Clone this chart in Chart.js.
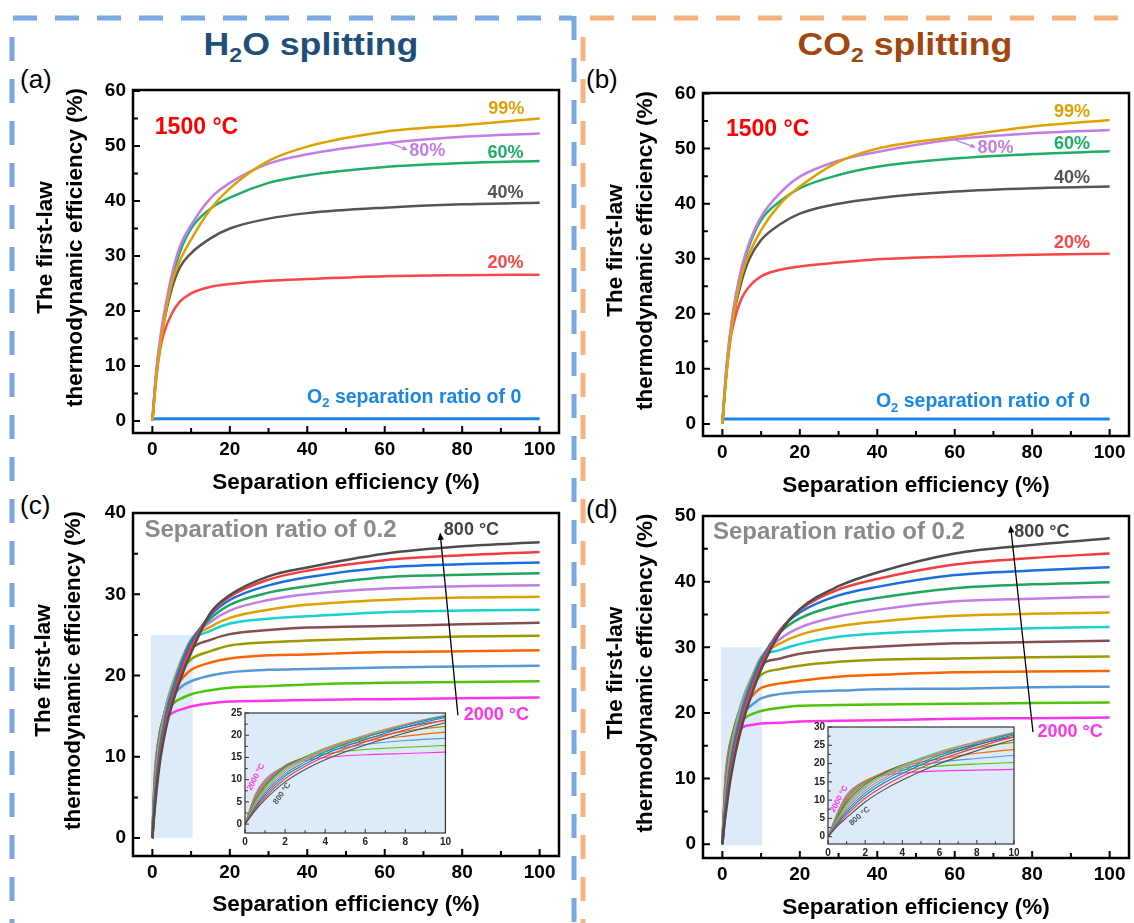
<!DOCTYPE html>
<html lang="en">
<head>
<meta charset="UTF-8">
<title>First-law thermodynamic efficiency vs separation efficiency</title>
<script src="https://cdn.jsdelivr.net/npm/chart.js"></script>
<style>
  body { margin: 0; background: #fff; }
  #page { position: relative; width: 1134px; height: 923px; overflow: hidden; font-family: "Liberation Sans", Arial, sans-serif; }
  canvas { position: absolute; }
  .head { position: absolute; top: 29px; font-size: 31px; line-height: 31px; font-weight: bold; white-space: nowrap; transform: translateX(-50%) scaleX(1.15); }
  .head sub { font-size: 20px; vertical-align: -7px; line-height: 0; }
  .tag { position: absolute; font-size: 26px; line-height: 26px; }
</style>
</head>
<body>
<div id="page">
  <svg width="1134" height="923" style="position:absolute;left:0;top:0">
    <g fill="none" stroke-width="5" stroke-dasharray="24 18">
      <line x1="13" y1="18" x2="572" y2="18" stroke="#7ba7e2"/>
      <line x1="12" y1="37" x2="12" y2="923" stroke="#7ba7e2"/>
      <line x1="574" y1="16" x2="574" y2="923" stroke="#7ba7e2"/>
      <line x1="590" y1="18" x2="1134" y2="18" stroke="#f9b182"/>
      <line x1="583" y1="37" x2="583" y2="923" stroke="#f9b182"/>
    </g>
  </svg>
  <div class="head" style="left:311px;color:#1f4e79">H<sub>2</sub>O splitting</div>
  <div class="head" style="left:905px;color:#a0460f">CO<sub>2</sub> splitting</div>
  <div class="tag" style="left:20px;top:66px">(a)</div>
  <div class="tag" style="left:586px;top:66px">(b)</div>
  <div class="tag" style="left:20px;top:492px">(c)</div>
  <div class="tag" style="left:586px;top:496px">(d)</div>

  <canvas id="chartA" width="575" height="440" style="left:0;top:60px"></canvas>
  <canvas id="chartB" width="559" height="440" style="left:575px;top:60px"></canvas>
  <canvas id="chartC" width="575" height="433" style="left:0;top:490px"></canvas>
  <canvas id="chartD" width="559" height="433" style="left:575px;top:490px"></canvas>
  <canvas id="insetC" width="232" height="148" style="left:222px;top:703px"></canvas>
  <canvas id="insetD" width="218" height="146" style="left:805px;top:717px"></canvas>
</div>

<script>
  // ---------- data ----------
  // (a), (b): 1500 °C, curves for several O2 separation ratios
  const sepTop = [0, 1, 2, 3, 5, 7, 10, 15, 20, 30, 40, 60, 80, 100];

  const h2o99 = [0, 7.5, 13.5, 18, 25, 29, 33.0, 38.5, 42.3, 47.3, 49.9, 52.6, 53.8, 55.0];
  const h2o80 = [0, 9, 15, 19.5, 26.5, 31.5, 35.6, 40.5, 43.3, 46.8, 48.5, 50.5, 51.7, 52.3];
  const h2o60 = [0, 8.5, 14.2, 18.5, 25.5, 30.5, 35.0, 38.6, 40.6, 43.3, 44.7, 46.2, 46.9, 47.3];
  const h2o40 = [0, 8.5, 14, 18, 24, 27.8, 30.5, 33.2, 35, 36.8, 37.8, 38.8, 39.4, 39.7];
  const h2o20 = [0, 8, 13, 16, 19.5, 21.6, 23.2, 24.4, 24.9, 25.5, 25.8, 26.3, 26.5, 26.6];
  const h2o0  = [0.4, 0.4, 0.4, 0.4, 0.4, 0.4, 0.4, 0.4, 0.4, 0.4, 0.4, 0.4, 0.4, 0.4];

  const co299 = [0, 8.5, 15, 20, 27, 31, 35.2, 40, 43.1, 47.6, 50, 52.1, 54, 55.2];
  const co280 = [0, 10, 16.5, 21.5, 28.5, 33, 37.6, 42, 44.9, 47.8, 49.4, 51.7, 52.8, 53.4];
  const co260 = [0, 9.5, 16, 21, 28, 32.5, 37, 40.5, 42.8, 45.2, 46.7, 48.2, 49, 49.5];
  const co240 = [0, 9, 15.5, 20, 26, 30, 33.4, 36.3, 38.2, 40, 41, 42.2, 42.8, 43.1];
  const co220 = [0, 9, 15, 18.5, 22.8, 25, 26.8, 28, 28.6, 29.3, 29.9, 30.4, 30.7, 30.9];
  const co20  = [0.9, 0.9, 0.9, 0.9, 0.9, 0.9, 0.9, 0.9, 0.9, 0.9, 0.9, 0.9, 0.9, 0.9];

  // (c), (d): separation ratio 0.2, temperatures 800 ... 2000 °C (one row per temperature)
  const sepLow = [0, 0.5, 1, 2, 3, 4, 6, 8, 10, 15, 20, 30, 40, 60, 80, 100];
  const temps = [800, 900, 1000, 1100, 1200, 1300, 1400, 1500, 1600, 1700, 1800, 1900, 2000];

  const h2oByTemp = [
    [0, 3.0, 5.5, 9.5, 12.3, 14.5, 17.8, 20.5, 22.8, 27.7, 29.9, 32.2, 33.3, 35.0, 35.9, 36.4],
    [0, 3.3, 6.0, 10.2, 13.0, 15.2, 18.5, 21.2, 23.5, 27.6, 29.7, 31.8, 32.9, 34.2, 34.8, 35.2],
    [0, 3.6, 6.5, 10.8, 13.5, 15.8, 19.0, 21.8, 24.0, 27.4, 29.3, 31.1, 32.1, 33.3, 33.7, 33.9],
    [0, 3.9, 7.0, 11.3, 14.0, 16.3, 19.5, 22.2, 24.3, 27.0, 28.7, 30.2, 31.0, 32.1, 32.4, 32.6],
    [0, 4.2, 7.4, 11.8, 14.5, 16.7, 19.8, 22.4, 24.4, 26.6, 28.0, 29.3, 30.0, 30.7, 31.0, 31.1],
    [0, 4.5, 7.8, 12.2, 14.8, 17.0, 20.0, 22.5, 24.4, 26.0, 27.1, 28.1, 28.7, 29.3, 29.6, 29.7],
    [0, 4.8, 8.2, 12.5, 15.0, 17.1, 20.0, 22.4, 24.2, 25.5, 26.4, 27.0, 27.3, 27.8, 28.0, 28.1],
    [0, 5.1, 8.5, 12.8, 15.1, 17.0, 19.7, 21.8, 23.3, 24.4, 25.1, 25.6, 25.9, 26.1, 26.3, 26.5],
    [0, 5.4, 8.8, 13.0, 15.1, 16.9, 19.2, 20.9, 22.0, 23.0, 23.7, 24.1, 24.3, 24.6, 24.8, 24.9],
    [0, 5.7, 9.0, 13.1, 15.0, 16.7, 18.6, 19.8, 20.7, 21.6, 22.1, 22.5, 22.6, 22.9, 23.0, 23.1],
    [0, 6.0, 9.3, 13.2, 14.9, 16.3, 17.9, 18.8, 19.3, 20.0, 20.4, 20.7, 20.8, 21.0, 21.1, 21.2],
    [0, 6.2, 9.6, 13.1, 14.6, 15.8, 16.8, 17.3, 17.7, 18.2, 18.5, 18.7, 18.9, 19.1, 19.2, 19.3],
    [0, 6.5, 10.0, 13.0, 14.3, 15.0, 15.6, 15.9, 16.2, 16.6, 16.8, 16.9, 17.0, 17.1, 17.2, 17.3]
  ];

  const co2ByTemp = [
    [0, 2.9, 5.2, 9.5, 12.8, 15.5, 20.0, 23.5, 26.6, 32.3, 35.8, 39.3, 41.4, 44.3, 45.6, 46.6],
    [0, 3.2, 5.9, 10.5, 13.8, 16.5, 21.0, 24.4, 27.3, 32.6, 35.7, 38.8, 40.4, 42.6, 43.6, 44.3],
    [0, 3.5, 6.5, 11.3, 14.7, 17.3, 21.7, 25.0, 27.8, 32.7, 35.3, 37.9, 39.2, 41.0, 41.7, 42.2],
    [0, 3.8, 7.1, 12.0, 15.4, 18.0, 22.3, 25.5, 28.2, 32.3, 34.4, 36.4, 37.5, 39.0, 39.6, 39.9],
    [0, 4.1, 7.7, 12.7, 16.0, 18.6, 22.8, 25.8, 28.4, 31.3, 33.0, 34.7, 35.7, 37.0, 37.4, 37.7],
    [0, 4.4, 8.3, 13.3, 16.6, 19.1, 23.1, 26.0, 28.5, 30.6, 31.9, 33.2, 33.9, 34.8, 35.1, 35.3],
    [0, 4.7, 8.8, 13.8, 17.0, 19.5, 23.3, 25.9, 28.3, 29.6, 30.5, 31.6, 32.1, 32.6, 32.9, 33.1],
    [0, 5.0, 9.3, 14.3, 17.4, 19.6, 22.8, 25.2, 27.3, 28.3, 29.0, 29.7, 30.1, 30.6, 30.8, 31.0],
    [0, 5.3, 9.8, 14.7, 17.6, 19.6, 22.4, 24.3, 25.8, 26.7, 27.2, 27.8, 28.1, 28.3, 28.5, 28.6],
    [0, 5.6, 10.2, 15.0, 17.5, 19.2, 21.3, 22.8, 23.8, 24.5, 24.9, 25.5, 25.8, 26.2, 26.3, 26.4],
    [0, 5.9, 10.6, 15.1, 17.4, 18.7, 20.4, 21.4, 22.2, 22.9, 23.2, 23.4, 23.6, 23.7, 23.9, 24.0],
    [0, 6.2, 11.0, 15.2, 17.1, 18.2, 19.3, 19.9, 20.3, 20.8, 21.1, 21.2, 21.3, 21.4, 21.5, 21.6],
    [0, 6.5, 11.4, 15.3, 16.8, 17.4, 18.0, 18.2, 18.4, 18.5, 18.7, 18.8, 18.9, 19.1, 19.2, 19.3]
  ];

  const xTicks = [0, 20, 40, 60, 80, 100];
  const insetTicks = [0, 2, 4, 6, 8, 10];

  // ---------- styling ----------
  const FONT = '"Liberation Sans", Arial, sans-serif';
  Chart.defaults.font.family = FONT;
  Chart.defaults.color = '#000';

  // 99%, 80%, 60%, 40%, 20%, 0
  const ratioColors = ['#e0a000', '#c07ee6', '#1fae68', '#555555', '#ff4545', '#1a86e6'];
  const tempColors = ['#4d4d4d', '#f53c3c', '#1a6fdf', '#1fa560', '#c07ee6', '#dca000', '#1ccfd0',
                      '#84504f', '#9a9a00', '#fb6501', '#5599d6', '#4fc20a', '#ff33ee'];

  function pts(xs, ys) { return xs.map((x, i) => ({ x: x, y: ys[i] })); }

  function curve(xs, ys, color, w) {
    return { data: pts(xs, ys), borderColor: color, borderWidth: w, pointRadius: 0,
             cubicInterpolationMode: 'monotone', fill: false };
  }

  // extra drawing per chart: frame, inward ticks, shaded box, y title, notes, arrows
  const decorById = {};
  const yTitleLines = ['The first-law', 'thermodynamic efficiency (%)'];

  function drawNote(ctx, px, py, n) {
    ctx.save();
    ctx.translate(px, py);
    if (n.rot) ctx.rotate(n.rot * Math.PI / 180);
    ctx.fillStyle = n.color;
    ctx.textBaseline = 'middle';
    ctx.textAlign = 'left';
    const big = 'bold ' + n.size + 'px ' + FONT;
    const small = 'bold ' + Math.round(n.size * 0.65) + 'px ' + FONT;
    const parts = n.parts || [[n.text, false]];
    let w = 0;
    parts.forEach(p => { ctx.font = p[1] ? small : big; w += ctx.measureText(p[0]).width; });
    let cx = -w / 2;
    parts.forEach(p => {
      ctx.font = p[1] ? small : big;
      ctx.fillText(p[0], cx, p[1] ? n.size * 0.32 : 0);
      cx += ctx.measureText(p[0]).width;
    });
    ctx.restore();
  }

  function drawArrow(ctx, x0, y0, x1, y1, color, w, head) {
    const ang = Math.atan2(y1 - y0, x1 - x0);
    ctx.save();
    ctx.strokeStyle = color;
    ctx.fillStyle = color;
    ctx.lineWidth = w;
    ctx.beginPath();
    ctx.moveTo(x0, y0);
    ctx.lineTo(x1 - Math.cos(ang) * head * 0.8, y1 - Math.sin(ang) * head * 0.8);
    ctx.stroke();
    ctx.beginPath();
    ctx.moveTo(x1, y1);
    ctx.lineTo(x1 - head * Math.cos(ang - 0.4), y1 - head * Math.sin(ang - 0.4));
    ctx.lineTo(x1 - head * Math.cos(ang + 0.4), y1 - head * Math.sin(ang + 0.4));
    ctx.closePath();
    ctx.fill();
    ctx.restore();
  }

  const decor = {
    id: 'decor',
    beforeDatasetsDraw(chart) {
      const d = decorById[chart.canvas.id];
      const { ctx, chartArea: a } = chart;
      const sx = chart.scales.x, sy = chart.scales.y;
      ctx.save();
      if (d.bg) {
        ctx.fillStyle = d.bg;
        ctx.fillRect(a.left, a.top, a.width, a.height);
      }
      if (d.shade) {
        const l = sx.getPixelForValue(d.shade.x[0]), r = sx.getPixelForValue(d.shade.x[1]);
        const t = sy.getPixelForValue(d.shade.y[1]), b = sy.getPixelForValue(d.shade.y[0]);
        ctx.fillStyle = '#ddeaf8';
        ctx.fillRect(l, t, r - l, b - t);
      }
      ctx.restore();
    },
    afterDatasetsDraw(chart) {
      const d = decorById[chart.canvas.id];
      const { ctx, chartArea: a } = chart;
      const sx = chart.scales.x, sy = chart.scales.y;
      ctx.save();
      ctx.strokeStyle = d.frameColor;
      ctx.lineWidth = d.frameW;
      ctx.strokeRect(a.left, a.top, a.width, a.height);
      ctx.lineWidth = d.tickW;
      ctx.beginPath();
      for (let v = Math.ceil(sx.min / d.minorX) * d.minorX; v <= sx.max + 1e-9; v += d.minorX) {
        const major = sx.ticks.some(t => Math.abs(t.value - v) < 1e-6);
        const p = sx.getPixelForValue(v);
        ctx.moveTo(p, a.bottom);
        ctx.lineTo(p, a.bottom - (major ? d.tickLen : d.tickLen * 0.7));
      }
      for (let v = Math.ceil(sy.min / d.minorY) * d.minorY; v <= sy.max + 1e-9; v += d.minorY) {
        const major = sy.ticks.some(t => Math.abs(t.value - v) < 1e-6);
        const p = sy.getPixelForValue(v);
        ctx.moveTo(a.left, p);
        ctx.lineTo(a.left + (major ? d.tickLen : d.tickLen * 0.7), p);
      }
      ctx.stroke();
      if (d.yTitle) {
        // two-line rotated axis title, centred a little above the plot centre as in the figure
        const cy = (a.top + a.bottom) / 2 - 14;
        ctx.fillStyle = '#000';
        ctx.font = 'bold 22.5px ' + FONT;
        ctx.textAlign = 'center';
        ctx.textBaseline = 'middle';
        yTitleLines.forEach((t, i) => {
          ctx.save();
          ctx.translate(d.yTitle[i], cy);
          ctx.rotate(-Math.PI / 2);
          ctx.fillText(t, 0, 0);
          ctx.restore();
        });
      }
      (d.arrows || []).forEach(r => {
        drawArrow(ctx, sx.getPixelForValue(r.from[0]), sy.getPixelForValue(r.from[1]),
                  sx.getPixelForValue(r.to[0]), sy.getPixelForValue(r.to[1]), r.color, r.w, r.head);
      });
      (d.notes || []).forEach(n => drawNote(ctx, sx.getPixelForValue(n.x), sy.getPixelForValue(n.y), n));
      ctx.restore();
    }
  };

  function mainScales(o) {
    return {
      x: {
        type: 'linear', min: -5, max: 105,
        afterBuildTicks: s => { s.ticks = xTicks.map(v => ({ value: v })); },
        afterFit: s => { s.height = o.xH; },
        grid: { display: false, drawTicks: false }, border: { display: false },
        ticks: { font: { size: 19, weight: 'bold' }, padding: 5, maxRotation: 0, autoSkip: false },
        title: { display: true, text: 'Separation efficiency (%)', font: { size: 22.5, weight: 'bold' },
                 padding: { top: 0, bottom: o.xPad } }
      },
      y: {
        type: 'linear', min: o.yMin, max: o.yMax,
        afterBuildTicks: s => { s.ticks = o.yTicks.map(v => ({ value: v })); },
        afterFit: s => { s.width = o.yW; },
        grid: { display: false, drawTicks: false }, border: { display: false },
        ticks: { font: { size: 19, weight: 'bold' }, padding: 7, autoSkip: false }
      }
    };
  }

  function insetScales(o) {
    return {
      x: {
        type: 'linear', min: 0, max: 10,
        afterBuildTicks: s => { s.ticks = insetTicks.map(v => ({ value: v })); },
        afterFit: s => { s.height = o.xH; },
        grid: { display: false, drawTicks: false }, border: { display: false },
        ticks: { font: { size: 10, weight: 'bold' }, color: '#222', padding: 3, maxRotation: 0, autoSkip: false }
      },
      y: {
        type: 'linear', min: -2, max: o.yMax,
        afterBuildTicks: s => { s.ticks = o.yTicks.map(v => ({ value: v })); },
        afterFit: s => { s.width = o.yW; },
        grid: { display: false, drawTicks: false }, border: { display: false },
        ticks: { font: { size: 10, weight: 'bold' }, color: '#222', padding: 3, autoSkip: false }
      }
    };
  }

  function makeChart(id, datasets, scales, padding) {
    return new Chart(document.getElementById(id), {
      type: 'line',
      data: { datasets: datasets },
      options: {
        responsive: false, animation: false, events: [],
        layout: { padding: padding },
        plugins: { legend: { display: false }, tooltip: { enabled: false } },
        scales: scales
      },
      plugins: [decor]
    });
  }

  // ---------- (a) ----------
  const h2oRatios = [h2o99, h2o80, h2o60, h2o40, h2o20];
  decorById.chartA = {
    frameColor: '#000', frameW: 2.5, tickW: 2, tickLen: 7, minorX: 10, minorY: 5, yTitle: [46, 76],
    arrows: [{ from: [61, 50.6], to: [66, 49.3], color: ratioColors[1], w: 1.3, head: 6 }],
    notes: [
      { text: '99%', x: 91.4, y: 56.8, color: ratioColors[0], size: 18 },
      { text: '80%', x: 71, y: 49.1, color: ratioColors[1], size: 18 },
      { text: '60%', x: 91.2, y: 48.8, color: ratioColors[2], size: 18 },
      { text: '40%', x: 91.2, y: 41.4, color: ratioColors[3], size: 18 },
      { text: '20%', x: 91.2, y: 28.7, color: ratioColors[4], size: 18 },
      { text: '1500 °C', x: 11.4, y: 53.3, color: '#ff0000', size: 23 },
      { parts: [['O', false], ['2', true], [' separation ratio of 0', false]], x: 67.6, y: 4.3,
        color: ratioColors[5], size: 19.5 }
    ]
  };
  makeChart('chartA',
    h2oRatios.map((ys, i) => curve(sepTop, ys, ratioColors[i], 2.5)).concat([curve(sepTop, h2o0, ratioColors[5], 3)]),
    mainScales({ yMin: -2.2, yMax: 60.2, yTicks: [0, 10, 20, 30, 40, 50, 60], xH: 67, yW: 123, xPad: 4 }),
    { left: 10, top: 30, right: 16, bottom: 0 });

  // ---------- (b) ----------
  const co2Ratios = [co299, co280, co260, co240, co220];
  decorById.chartB = {
    frameColor: '#000', frameW: 2.5, tickW: 2, tickLen: 7, minorX: 10, minorY: 5, yTitle: [41, 71],
    arrows: [{ from: [60, 51.6], to: [65.5, 50.2], color: ratioColors[1], w: 1.3, head: 6 }],
    notes: [
      { text: '99%', x: 90.3, y: 56.7, color: ratioColors[0], size: 18 },
      { text: '80%', x: 70.5, y: 50.1, color: ratioColors[1], size: 18 },
      { text: '60%', x: 90.3, y: 50.9, color: ratioColors[2], size: 18 },
      { text: '40%', x: 90.3, y: 44.6, color: ratioColors[3], size: 18 },
      { text: '20%', x: 90.3, y: 32.8, color: ratioColors[4], size: 18 },
      { text: '1500 °C', x: 11.7, y: 53.4, color: '#ff0000', size: 23 },
      { parts: [['O', false], ['2', true], [' separation ratio of 0', false]], x: 67.3, y: 4.0,
        color: ratioColors[5], size: 19.5 }
    ]
  };
  makeChart('chartB',
    co2Ratios.map((ys, i) => curve(sepTop, ys, ratioColors[i], 2.5)).concat([curve(sepTop, co20, ratioColors[5], 3)]),
    mainScales({ yMin: -2.2, yMax: 60.1, yTicks: [0, 10, 20, 30, 40, 50, 60], xH: 64, yW: 118, xPad: 1 }),
    { left: 10, top: 33, right: 5, bottom: 0 });

  // ---------- (c) ----------
  decorById.chartC = {
    frameColor: '#000', frameW: 2.5, tickW: 2, tickLen: 7, minorX: 10, minorY: 5, yTitle: [44, 74],
    shade: { x: [-0.4, 10.4], y: [0, 25] },
    arrows: [{ from: [78.9, 15.1], to: [74.3, 37.6], color: '#000', w: 1.3, head: 8 }],
    notes: [
      { text: 'Separation ratio of 0.2', x: 30.5, y: 37.9, color: '#8a8a8a', size: 24 },
      { text: temps[0] + ' °C', x: 82.4, y: 37.9, color: '#444', size: 18 },
      { text: temps[12] + ' °C', x: 88.8, y: 15.1, color: tempColors[12], size: 18 }
    ]
  };
  makeChart('chartC',
    h2oByTemp.map((ys, i) => curve(sepLow, ys, tempColors[i], 2.5)),
    mainScales({ yMin: -2.2, yMax: 40, yTicks: [0, 10, 20, 30, 40], xH: 67, yW: 123, xPad: 5 }),
    { left: 10, top: 23, right: 16, bottom: 0 });

  // ---------- (d) ----------
  decorById.chartD = {
    frameColor: '#000', frameW: 2.5, tickW: 2, tickLen: 7, minorX: 10, minorY: 5, yTitle: [41, 71],
    shade: { x: [-0.3, 10.3], y: [-0.2, 30] },
    arrows: [{ from: [80.2, 17.1], to: [74.4, 48.6], color: '#000', w: 1.3, head: 8 }],
    notes: [
      { text: 'Separation ratio of 0.2', x: 30.1, y: 47.5, color: '#8a8a8a', size: 24 },
      { text: temps[0] + ' °C', x: 82.5, y: 47.6, color: '#444', size: 18 },
      { text: temps[12] + ' °C', x: 89.8, y: 17.1, color: tempColors[12], size: 18 }
    ]
  };
  makeChart('chartD',
    co2ByTemp.map((ys, i) => curve(sepLow, ys, tempColors[i], 2.5)),
    mainScales({ yMin: -2.1, yMax: 50, yTicks: [0, 10, 20, 30, 40, 50], xH: 65, yW: 118, xPad: 2 }),
    { left: 10, top: 26, right: 5, bottom: 0 });

  // ---------- insets (zoom on 0-10 %) ----------
  decorById.insetC = {
    bg: '#ddeaf8', frameColor: '#333', frameW: 1.2, tickW: 1, tickLen: 4, minorX: 1, minorY: 2.5,
    notes: [
      { text: temps[12] + ' °C', x: 0.55, y: 10.6, color: tempColors[12], size: 8, rot: -62 },
      { text: temps[0] + ' °C', x: 1.85, y: 6.9, color: '#555', size: 8, rot: -55 }
    ]
  };
  makeChart('insetC',
    h2oByTemp.map((ys, i) => curve(sepLow, ys, tempColors[i], 1.1)),
    insetScales({ yMax: 25, yTicks: [0, 5, 10, 15, 20, 25], xH: 18, yW: 21 }),
    { left: 2, top: 10, right: 8, bottom: 0 });

  decorById.insetD = {
    bg: '#ddeaf8', frameColor: '#333', frameW: 1.2, tickW: 1, tickLen: 4, minorX: 1, minorY: 2.5,
    notes: [
      { text: temps[12] + ' °C', x: 0.6, y: 10.3, color: tempColors[12], size: 8, rot: -62 },
      { text: temps[0] + ' °C', x: 1.7, y: 5.6, color: '#555', size: 8, rot: -40 }
    ]
  };
  makeChart('insetD',
    co2ByTemp.map((ys, i) => curve(sepLow, ys, tempColors[i], 1.1)),
    insetScales({ yMax: 30, yTicks: [0, 5, 10, 15, 20, 25, 30], xH: 19, yW: 21 }),
    { left: 2, top: 10, right: 9, bottom: 0 });
</script>
</body>
</html>
